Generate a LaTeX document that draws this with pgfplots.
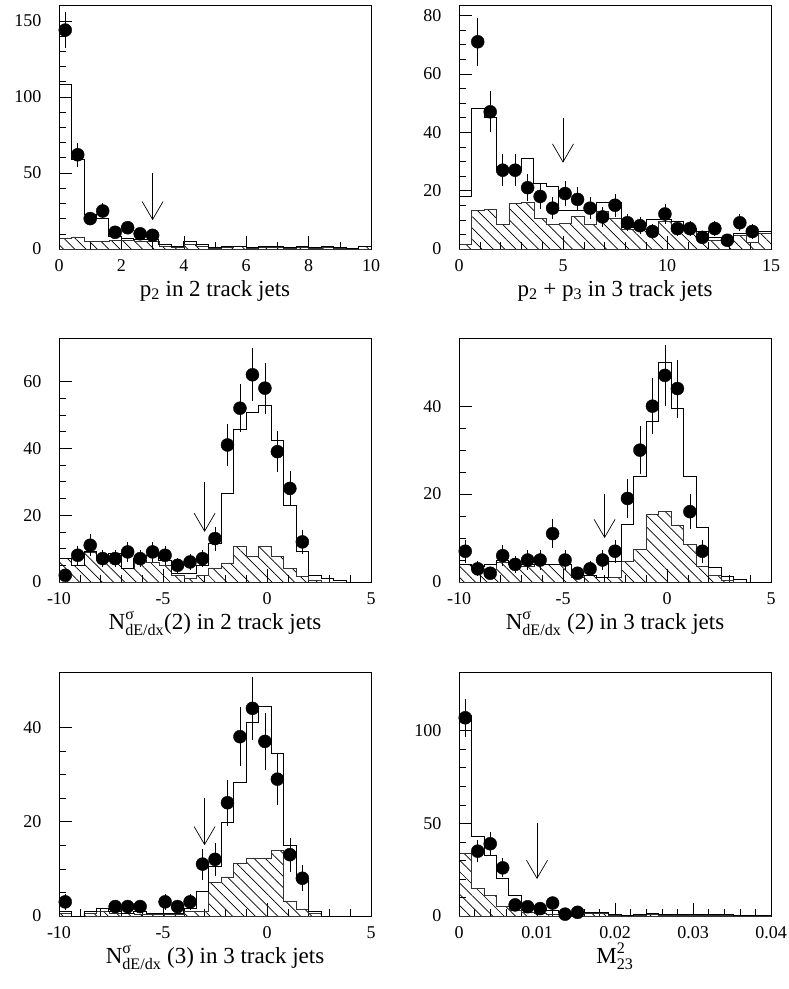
\documentclass[border=0pt]{standalone}
\usepackage{amsmath}
\usepackage{fontspec}
\setmainfont{Liberation Serif}
\usepackage{pgfplots}
\pgfplotsset{compat=1.18}
\usetikzlibrary{patterns.meta,arrows.meta}

\pgfplotsset{
  panel/.style={
    scale only axis, width=312pt, height=244pt,
    axis line style={line width=0.8pt},
    tick align=inside, xtick pos=bottom, ytick pos=left,
    major tick length=13pt, minor tick length=7pt,
    tick style={black, line width=0.6pt},
    ticklabel style={font=\fontsize{18}{20}\selectfont},
    xticklabel style={yshift=-7pt},
    yticklabel style={xshift=-14pt},
    /pgf/number format/assume math mode=true,
    ymin=0,
    xlabel style={at={(axis description cs:0.5,0)}, anchor=base,
      yshift=-47pt, font=\fontsize{23}{27}\selectfont},
  },
  mc/.style={const plot, black, line width=0.9pt},
  bg/.style={const plot, draw=black!80, line width=0.6pt,
    pattern={Lines[angle=-45,distance=8pt,line width=0.7pt]}},
  dat/.style={only marks, mark=*, mark size=6.5pt, black,
    error bars/.cd, y dir=both, y explicit, error mark=none,
    error bar style={line width=0.7pt, black}},
  cut/.style={black, line width=0.7pt,
    -{Straight Barb[length=18pt,width=21pt]}},
}

\begin{document}
\begin{tikzpicture}
\useasboundingbox (0,0) rectangle (789pt,-989pt);

% p2 in 2 track jets
\begin{axis}[panel, at={(59pt,-5pt)}, anchor=north west,
  xmin=0, xmax=10, ymax=160.5,
  xtick={0,2,...,10}, minor x tick num=1,
  ytick={0,50,100,150}, minor y tick num=4,
  xlabel={p\textsubscript{2} in 2 track jets}]
\addplot[bg] coordinates {(0,7)(0.4,8)(0.8,5)(1.2,5)(1.6,5.5)(2.0,5.5)(2.4,5)(2.8,5)(3.2,2)(3.6,1)(4.0,3)(4.4,1.5)(4.8,0.5)(5.2,1)(5.6,1.5)(6.0,0.5)(6.4,1)(6.8,1)(7.2,0.5)(7.6,1)(8.0,0.5)(8.4,1)(8.8,0.5)(9.2,0.2)(9.6,1.5)(10,1.5)} \closedcycle;
\addplot[mc] coordinates {(0,0)(0,108)(0.4,59)(0.8,23)(1.2,20)(1.6,8)(2.0,7)(2.4,6.5)(2.8,6)(3.2,3)(3.6,2)(4.0,5)(4.4,3)(4.8,1)(5.2,1.5)(5.6,2)(6.0,1)(6.4,1.5)(6.8,1.5)(7.2,1)(7.6,1.5)(8.0,1)(8.4,1.5)(8.8,1)(9.2,0.5)(9.6,2)(10,2)};
\addplot[dat] coordinates {(0.2,144)+-(0,12)(0.6,62)+-(0,7.9)(1.0,20)+-(0,4.5)(1.4,25)+-(0,5)(1.8,11)+-(0,3.3)(2.2,14)+-(0,3.7)(2.6,10)+-(0,3.2)(3.0,9)+-(0,3)};
\addplot[cut] coordinates {(3,50)(3,19)};
\end{axis}

% p2 + p3 in 3 track jets
\begin{axis}[panel, at={(459pt,-5pt)}, anchor=north west,
  xmin=0, xmax=15, ymax=83.6,
  xtick={0,5,10,15}, minor x tick num=4,
  ytick={0,20,...,80}, minor y tick num=3,
  xlabel={p\textsubscript{2} + p\textsubscript{3} in 3 track jets}]
\addplot[bg] coordinates {(0,1.5)(0.6,13.2)(1.2,13.7)(1.8,8.3)(2.4,15.5)(3.0,16)(3.6,10.6)(4.2,8.3)(4.8,8.7)(5.4,11.2)(6.0,8.3)(6.6,12.9)(7.2,10.6)(7.8,6.8)(8.4,6.8)(9.0,6.6)(9.6,9.5)(10.2,7.8)(10.8,6.6)(11.4,4.9)(12.0,3)(12.6,2.6)(13.2,4.6)(13.8,2.3)(14.4,5.5)(15,5.5)} \closedcycle;
\addplot[mc] coordinates {(0,0)(0,18)(0.6,48)(1.2,45)(1.8,27)(2.4,27)(3.0,31)(3.6,22.5)(4.2,21.5)(4.8,13.2)(5.4,13.2)(6.0,13.2)(6.6,16)(7.2,16)(7.8,7.5)(8.4,8)(9.0,10)(9.6,10)(10.2,9.5)(10.8,7)(11.4,6)(12.0,4)(12.6,3.5)(13.2,5.5)(13.8,6)(14.4,6)(15,6)};
\addplot[dat] coordinates {(0.9,71)+-(0,8.3)(1.5,47)+-(0,7)(2.1,27)+-(0,5.4)(2.7,27)+-(0,5.4)(3.3,21)+-(0,4.6)(3.9,18)+-(0,4.3)(4.5,14)+-(0,3.8)(5.1,19)+-(0,4.4)(5.7,17)+-(0,4.1)(6.3,14)+-(0,3.8)(6.9,11)+-(0,3.4)(7.5,15)+-(0,3.9)(8.1,9)+-(0,3)(8.7,8)+-(0,2.9)(9.3,6)+-(0,2.5)(9.9,12)+-(0,3.5)(10.5,7)+-(0,2.7)(11.1,7)+-(0,2.7)(11.7,4)+-(0,2)(12.3,7)+-(0,2.7)(12.9,3)+-(0,1.7)(13.5,9)+-(0,3)(14.1,6)+-(0,2.5)};
\addplot[cut] coordinates {(5,45)(5,29.6)};
\end{axis}

% N(2) in 2 track jets
\begin{axis}[panel, at={(59pt,-338pt)}, anchor=north west,
  xmin=-10, xmax=5, ymax=73,
  xtick={-10,-5,0,5}, minor x tick num=4,
  ytick={0,20,40,60}, minor y tick num=3,
  xlabel={$\text{N}^{\text{σ}}_{\text{dE/dx}}$(2) in 2 track jets}]
\addplot[bg] coordinates {(-10,7)(-9.4,5)(-8.8,9)(-8.2,6.5)(-7.6,7.5)(-7.0,4)(-6.4,6.5)(-5.8,6)(-5.2,5)(-4.6,2)(-4.0,1)(-3.4,2)(-2.8,4.2)(-2.2,5.7)(-1.6,10.7)(-1.0,7.6)(-0.4,10.7)(0.2,7.6)(0.8,4)(1.4,1.7)(2.0,0.5)(2.6,0)(5,0)} \closedcycle;
\addplot[mc] coordinates {(-10,0)(-10,7)(-9.4,5)(-8.8,9)(-8.2,7)(-7.6,8.5)(-7.0,4)(-6.4,7)(-5.8,8)(-5.2,6.5)(-4.6,2.5)(-4.0,2.5)(-3.4,5)(-2.8,11.5)(-2.2,26.6)(-1.6,45.5)(-1.0,50.8)(-0.4,52.8)(0.2,42.5)(0.8,23)(1.4,9.2)(2.0,2)(2.6,1.2)(3.2,0.4)(3.8,0)(5,0)};
\addplot[dat] coordinates {(-9.7,2)+-(0,1.4)(-9.1,8)+-(0,2.8)(-8.5,11)+-(0,3.3)(-7.9,7)+-(0,2.6)(-7.3,7)+-(0,2.6)(-6.7,9)+-(0,3)(-6.1,7)+-(0,2.6)(-5.5,9)+-(0,3)(-4.9,8)+-(0,2.8)(-4.3,5)+-(0,2.2)(-3.7,6)+-(0,2.4)(-3.1,7)+-(0,2.6)(-2.5,13)+-(0,3.6)(-1.9,41)+-(0,6.4)(-1.3,52)+-(0,7.2)(-0.7,62)+-(0,7.9)(-0.1,58)+-(0,7.6)(0.5,39)+-(0,6.2)(1.1,28)+-(0,5.3)(1.7,12)+-(0,3.5)};
\addplot[cut] coordinates {(-3,30)(-3,15)};
\end{axis}

% N(2) in 3 track jets
\begin{axis}[panel, at={(459pt,-338pt)}, anchor=north west,
  xmin=-10, xmax=5, ymax=55.5,
  xtick={-10,-5,0,5}, minor x tick num=4,
  ytick={0,20,40}, minor y tick num=3,
  xlabel={$\text{N}^{\text{σ}}_{\text{dE/dx}}$ (2) in 3 track jets}]
\addplot[bg] coordinates {(-10,4)(-9.4,3)(-8.8,3)(-8.2,4.5)(-7.6,3.5)(-7.0,3.5)(-6.4,4)(-5.8,4)(-5.2,4)(-4.6,1)(-4.0,1.5)(-3.4,1)(-2.8,1)(-2.2,4.7)(-1.6,7.5)(-1.0,15.4)(-0.4,16)(0.2,13)(0.8,8.6)(1.4,3.6)(2.0,1.5)(2.6,0.5)(3.2,0)(5,0)} \closedcycle;
\addplot[mc] coordinates {(-10,0)(-10,4)(-9.4,3.5)(-8.8,4)(-8.2,5)(-7.6,4)(-7.0,4)(-6.4,4)(-5.8,4)(-5.2,4)(-4.6,2)(-4.0,1.5)(-3.4,1)(-2.8,4.7)(-2.2,13)(-1.6,24)(-1.0,36.5)(-0.4,50)(0.2,39.5)(0.8,24)(1.4,12.4)(2.0,3.2)(2.6,1.3)(3.2,0.5)(3.8,0)(5,0)};
\addplot[dat] coordinates {(-9.7,7)+-(0,2.6)(-9.1,3)+-(0,1.7)(-8.5,2)+-(0,1.4)(-7.9,6)+-(0,2.4)(-7.3,4)+-(0,2)(-6.7,5)+-(0,2.2)(-6.1,5)+-(0,2.2)(-5.5,11)+-(0,3.3)(-4.9,5)+-(0,2.2)(-4.3,2)+-(0,1.4)(-3.7,3)+-(0,1.7)(-3.1,5)+-(0,2.2)(-2.5,7)+-(0,2.6)(-1.9,19)+-(0,4.4)(-1.3,30)+-(0,5.5)(-0.7,40)+-(0,6.3)(-0.1,47)+-(0,6.9)(0.5,44)+-(0,6.6)(1.1,16)+-(0,4)(1.7,7)+-(0,2.6)};
\addplot[cut] coordinates {(-3,20)(-3,10)};
\end{axis}

% N(3) in 3 track jets
\begin{axis}[panel, at={(59pt,-672pt)}, anchor=north west,
  xmin=-10, xmax=5, ymax=51.7,
  xtick={-10,-5,0,5}, minor x tick num=4,
  ytick={0,20,40}, minor y tick num=3,
  xlabel={$\text{N}^{\text{σ}}_{\text{dE/dx}}$ (3) in 3 track jets}]
\addplot[bg] coordinates {(-10,0.5)(-9.4,0)(-8.8,0.5)(-8.2,1)(-7.6,0.5)(-7.0,0.5)(-6.4,0.3)(-5.8,0.3)(-5.2,0.3)(-4.6,0.3)(-4.0,1)(-3.4,1)(-2.8,7.2)(-2.2,8.3)(-1.6,11.1)(-1.0,12.3)(-0.4,12.3)(0.2,13.9)(0.8,3.2)(1.4,1.5)(2.0,0.5)(2.6,0)(5,0)} \closedcycle;
\addplot[mc] coordinates {(-10,0)(-10,1)(-9.4,0)(-8.8,1)(-8.2,1.5)(-7.6,1)(-7.0,0.5)(-6.4,1)(-5.8,0.5)(-5.2,0.5)(-4.6,0.5)(-4.0,1.5)(-3.4,5.1)(-2.8,10.6)(-2.2,19.9)(-1.6,28.2)(-1.0,41)(-0.4,44.5)(0.2,34.4)(0.8,14.9)(1.4,7.6)(2.0,1)(2.6,0)(5,0)};
\addplot[dat] coordinates {(-9.7,3)+-(0,1.7)(-7.3,2)+-(0,1.4)(-6.7,2)+-(0,1.4)(-6.1,2)+-(0,1.4)(-4.9,3)+-(0,1.7)(-4.3,2)+-(0,1.4)(-3.7,3)+-(0,1.7)(-3.1,11)+-(0,3.3)(-2.5,12)+-(0,3.5)(-1.9,24)+-(0,4.9)(-1.3,38)+-(0,6.2)(-0.7,44)+-(0,6.6)(-0.1,37)+-(0,6.1)(0.5,29)+-(0,5.4)(1.1,13)+-(0,3.6)(1.7,8)+-(0,2.8)};
\addplot[cut] coordinates {(-3,25)(-3,15)};
\end{axis}

% M23^2
\begin{axis}[panel, at={(459pt,-672pt)}, anchor=north west,
  xmin=0, xmax=0.04, ymax=131.7,
  xtick={0,0.01,0.02,0.03,0.04}, xticklabels={0,0.01,0.02,0.03,0.04},
  scaled x ticks=false, minor x tick num=4,
  ytick={0,50,100}, minor y tick num=4,
  xlabel={$\text{M}^{\text{2}}_{\text{23}}$}]
\addplot[bg] coordinates {(0,34)(0.0016,15)(0.0032,11)(0.0048,5)(0.0064,3)(0.008,2)(0.0096,1.5)(0.0112,1)(0.0128,1)(0.0144,1.5)(0.016,1.5)(0.0176,1.5)(0.0192,0.5)(0.0208,0.3)(0.0224,0.5)(0.024,1)(0.0256,0.5)(0.0272,0.5)(0.0288,0.5)(0.0304,0.5)(0.032,0.5)(0.0336,0.5)(0.0352,0.3)(0.0368,0.2)(0.0384,0.2)(0.04,0.2)} \closedcycle;
\addplot[mc] coordinates {(0,0)(0,108)(0.0016,43)(0.0032,32.5)(0.0048,20.5)(0.0064,11)(0.008,6)(0.0096,4)(0.0112,3)(0.0128,2)(0.0144,2)(0.016,2)(0.0176,2)(0.0192,1)(0.0208,0.5)(0.0224,1)(0.024,1.5)(0.0256,1)(0.0272,1)(0.0288,1)(0.0304,1)(0.032,1)(0.0336,1)(0.0352,0.5)(0.0368,0.5)(0.0384,0.3)(0.04,0.3)};
\addplot[dat] coordinates {(0.0008,107)+-(0,10.3)(0.0024,35)+-(0,5.9)(0.004,39)+-(0,6.2)(0.0056,26)+-(0,5.1)(0.0072,6)+-(0,2.4)(0.0088,5)+-(0,2.2)(0.0104,4)+-(0,2)(0.012,7)+-(0,2.6)(0.0136,1)+-(0,1)(0.0152,2)+-(0,1.4)};
\addplot[cut] coordinates {(0.01,50)(0.01,20)};
\end{axis}
\end{tikzpicture}
\end{document}
